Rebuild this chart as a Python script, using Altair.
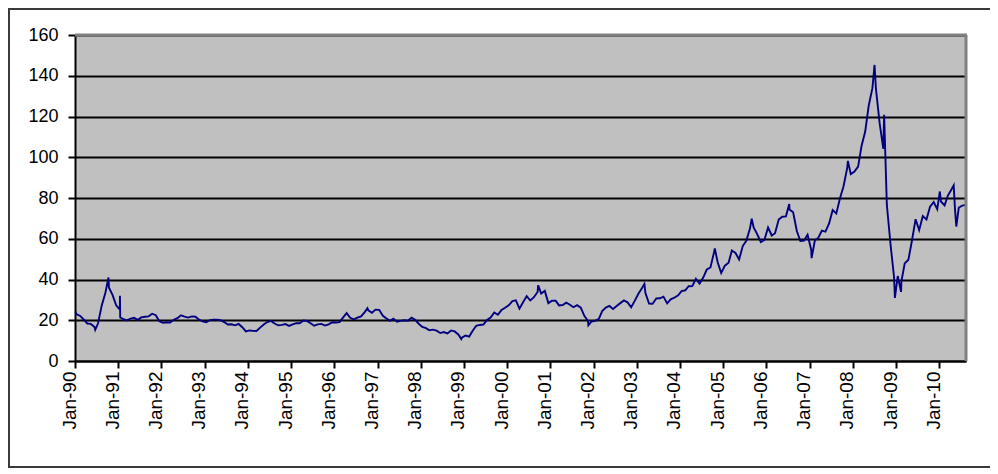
import altair as alt
import pandas as pd

# Monthly crude oil prices (USD/bbl), Jan 1990 .. Aug 2010
start_year = 1990
monthly_prices = [
    22.9, 22.1, 20.4, 18.4, 18.2, 16.7, 18.5, 27.3, 33.5, 36.0, 32.3, 27.3,   # 1990
    25.2, 20.5, 19.9, 20.8, 21.2, 20.2, 21.4, 21.7, 21.9, 23.2, 22.5, 19.5,   # 1991
    18.8, 19.0, 18.9, 20.2, 21.0, 22.4, 21.8, 21.3, 21.9, 21.7, 20.3, 19.4,   # 1992
    19.0, 20.1, 20.3, 20.3, 20.0, 19.1, 17.9, 18.0, 17.5, 18.2, 16.6, 14.5,   # 1993
    15.0, 14.8, 14.7, 16.4, 17.9, 19.1, 19.7, 18.4, 17.5, 17.7, 18.1, 17.2,   # 1994
    18.0, 18.6, 18.5, 19.9, 19.7, 18.5, 17.3, 18.0, 18.2, 17.4, 18.0, 19.0,   # 1995
    18.9, 19.1, 21.3, 23.5, 21.2, 20.4, 21.3, 21.9, 24.0, 24.9, 23.7, 25.2,   # 1996
    25.1, 22.2, 21.0, 19.7, 20.8, 19.3, 19.7, 20.0, 19.8, 21.3, 20.2, 18.3,   # 1997
    16.7, 16.1, 15.1, 15.4, 14.9, 13.7, 14.2, 13.5, 15.0, 14.5, 13.0, 11.4,   # 1998
    12.5, 12.0, 14.7, 17.3, 17.7, 17.9, 20.1, 21.3, 23.8, 22.7, 25.0, 26.1,   # 1999
    27.3, 29.4, 29.8, 25.7, 28.8, 31.8, 29.7, 31.3, 33.9, 33.1, 34.4, 28.4,   # 2000
    29.6, 29.6, 27.3, 27.5, 28.6, 27.6, 26.4, 27.4, 26.2, 22.2, 19.6, 19.4,   # 2001
    19.7, 20.7, 24.5, 26.2, 27.0, 25.5, 27.0, 28.4, 29.7, 28.8, 26.4, 29.5,   # 2002
    33.0, 35.8, 33.5, 28.2, 28.1, 30.7, 30.8, 31.6, 28.3, 30.3, 31.1, 32.1,   # 2003
    34.3, 34.7, 36.7, 36.8, 40.3, 38.0, 40.8, 44.9, 45.9, 53.3, 48.5, 43.2,   # 2004
    46.8, 48.2, 54.2, 53.0, 49.8, 56.4, 59.0, 65.0, 65.6, 62.3, 58.3, 59.4,   # 2005
    65.5, 61.6, 62.7, 69.4, 70.8, 71.0, 74.4, 73.0, 63.8, 58.9, 59.1, 62.0,   # 2006
    54.5, 59.3, 60.4, 64.0, 63.5, 67.5, 74.1, 72.4, 79.9, 85.8, 94.8, 91.7,   # 2007
    93.0, 95.4, 105.5, 112.6, 125.4, 133.9, 133.4, 116.7, 104.1, 76.6, 57.3, 41.1,  # 2008
    41.7, 39.1, 47.9, 49.7, 59.0, 69.6, 64.2, 71.1, 69.4, 75.7, 78.0, 74.5,   # 2009
    78.3, 76.4, 81.2, 84.3, 73.7, 75.3, 76.3, 76.6,                           # 2010
]

# Short-lived highs and lows visible in the daily series
extreme_dates = [
    "1990-01-05", "1990-06-21", "1990-10-11", "1991-01-16", "1991-01-18",
    "1996-10-08", "1998-12-10", "2000-09-20", "2001-11-18", "2003-03-07",
    "2004-10-22", "2005-08-30", "2006-07-13", "2007-01-18", "2007-11-21",
    "2008-07-03", "2008-09-22", "2008-12-22", "2009-02-12", "2010-01-06",
    "2010-05-03", "2010-05-25",
]
extreme_prices = [
    24.2, 15.3, 41.0, 32.0, 21.4,
    25.9, 10.8, 37.2, 17.5, 37.8,
    55.2, 69.8, 77.0, 50.5, 98.2,
    145.3, 120.9, 31.0, 33.9, 83.2,
    86.2, 66.0,
]

tick_years = list(range(1990, 2011))
y_ticks = [0, 20, 40, 60, 80, 100, 120, 140, 160]

rows = []
for i, p in enumerate(monthly_prices):
    y = start_year + i // 12
    m = i % 12 + 1
    rows.append({"date": f"{y}-{m:02d}-15T00:00:00", "price": p})
for d, p in zip(extreme_dates, extreme_prices):
    rows.append({"date": d + "T00:00:00", "price": p})
df = pd.DataFrame(rows).sort_values("date").reset_index(drop=True)

W, H = 891, 326
PL, PT, PR, PB = 67, 27, 24, 107

line = alt.Chart(df).mark_line(color="#000080", strokeWidth=1.9).encode(
    x=alt.X(
        "date:T",
        title=None,
        scale=alt.Scale(
            domain=[alt.DateTime(year=1990, month=1, date=1),
                    alt.DateTime(year=2010, month=8, date=15)],
            nice=False,
        ),
        axis=alt.Axis(
            values=[alt.DateTime(year=y, month=1, date=1) for y in tick_years],
            format="%b-%y",
            labelAngle=270,
            labelAlign="right",
            labelBaseline="alphabetic",
            labelFontSize=19,
            labelPadding=3,
            labelColor="black",
            labelFont="Liberation Sans",
            labelOverlap=False,
            labelFlush=False,
            grid=False,
            tickSize=7,
            tickColor="black",
            tickWidth=2,
            domainColor="black",
            domainWidth=2,
        ),
    ),
    y=alt.Y(
        "price:Q",
        title=None,
        scale=alt.Scale(domain=[0, 160], nice=False),
        axis=alt.Axis(
            values=y_ticks,
            labelFontSize=18,
            labelPadding=10,
            labelColor="black",
            labelFont="Liberation Sans",
            grid=True,
            gridColor="black",
            gridWidth=2,
            tickSize=7,
            tickColor="black",
            tickWidth=2,
            domainColor="black",
            domainWidth=2,
        ),
    ),
)

one = pd.DataFrame({"k": [0]})

plot_top = alt.Chart(one).mark_rule(color="#808080", strokeWidth=3).encode(
    x=alt.value(0), x2=alt.value(W + 1), y=alt.value(0))
plot_right = alt.Chart(one).mark_rule(color="#808080", strokeWidth=3).encode(
    x=alt.value(W), y=alt.value(0), y2=alt.value(H))
frame_top = alt.Chart(one).mark_rule(color="#3a3a3a", strokeWidth=2).encode(
    x=alt.value(-PL), x2=alt.value(W + PR), y=alt.value(-PT + 1))
frame_left = alt.Chart(one).mark_rule(color="#3a3a3a", strokeWidth=2).encode(
    x=alt.value(-PL + 1), y=alt.value(-PT), y2=alt.value(H + PB))
frame_bottom = alt.Chart(one).mark_rule(color="#3a3a3a", strokeWidth=2).encode(
    x=alt.value(-PL), x2=alt.value(W + PR), y=alt.value(H + PB - 1))

chart = alt.layer(line, plot_top, plot_right, frame_top, frame_left, frame_bottom).properties(
    width=W,
    height=H,
    autosize=alt.AutoSizeParams(type="none"),
    padding={"left": PL, "top": PT, "right": PR, "bottom": PB},
    background="white",
).configure_view(fill="#c0c0c0", stroke=None)

chart.save("out.html", embed_options={"renderer": "svg", "actions": False})
